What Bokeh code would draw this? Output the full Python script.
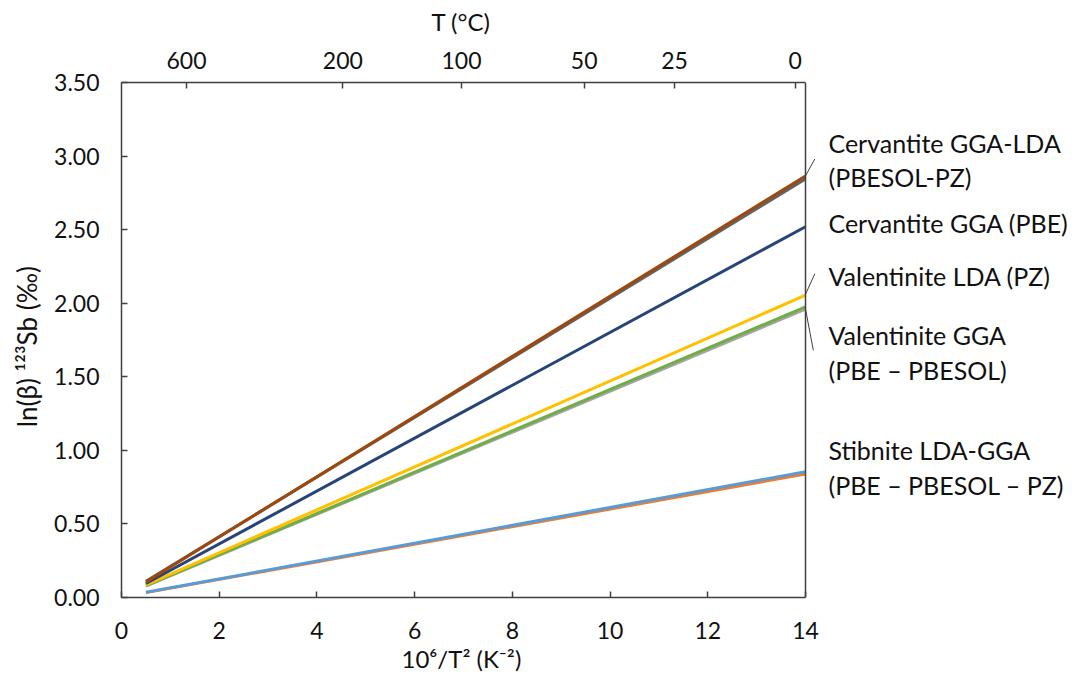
from bokeh.plotting import figure
from bokeh.models import LinearAxis, FixedTicker, Label, Range1d, NumeralTickFormatter, Span, Title
from bokeh.embed import file_html
from bokeh.resources import INLINE

# ---------------- data ----------------
x_vals = [0.5, 14.0]                       # 10^6/T^2 (K^-2)
cerv_pz = [0.11, 2.845]                    # Cervantite LDA (PZ) - gray
cerv_pbesol = [0.105, 2.865]               # Cervantite GGA (PBESOL) - brown
cerv_pbe = [0.095, 2.52]                   # Cervantite GGA (PBE)
val_pz = [0.085, 2.055]                    # Valentinite LDA (PZ)
val_pbe = [0.078, 1.96]                    # Valentinite GGA (PBE) - gray
val_pbesol = [0.08, 1.975]                 # Valentinite GGA (PBESOL) - green
stib_pz = [0.033, 0.84]                    # Stibnite (orange)
stib_pbe = [0.035, 0.855]                  # Stibnite (blue)

x_ticks = [0, 2, 4, 6, 8, 10, 12, 14]
y_ticks = [0.0, 0.5, 1.0, 1.5, 2.0, 2.5, 3.0, 3.5]
top_tick_pos = [1.33, 4.53, 6.96, 9.47, 11.32, 13.79]
top_tick_labels = ["600", "200", "100", "50", "25", "0"]

label_texts = ["Cervantite GGA-LDA", "(PBESOL-PZ)", "Cervantite GGA (PBE)",
               "Valentinite LDA (PZ)", "Valentinite GGA", "(PBE \u2013 PBESOL)",
               "Stibnite LDA-GGA", "(PBE \u2013 PBESOL \u2013 PZ)"]
label_y = [3.09, 2.86, 2.545, 2.186, 1.785, 1.548, 1.005, 0.767]

# leader lines (from series end to label)
lead_x0 = [14.0, 14.0, 14.0]
lead_y0 = [2.865, 2.06, 1.96]
lead_x1 = [14.19, 14.19, 14.16]
lead_y1 = [2.98, 2.20, 1.68]

FONT = "Lato"
AX = "#404040"
TXT = "#111111"
X_MAX = 14
X_VIEW = 19.649   # the frame continues to the right canvas edge (label area)

p = figure(width=1081, height=675, output_backend="svg", toolbar_location=None,
           x_range=Range1d(0, X_VIEW), y_range=Range1d(0, 3.5))
p.min_border_left = 121
p.min_border_right = 0
p.min_border_top = 82
p.min_border_bottom = 78
p.xgrid.visible = False
p.ygrid.visible = False
p.outline_line_color = None
p.background_fill_color = "white"
p.border_fill_color = "white"

p.add_layout(Span(location=X_MAX, dimension="height", line_color=AX, line_width=1.5))

p.line(x_vals, stib_pz, line_color="#ED7D31", line_width=3)
p.line(x_vals, stib_pbe, line_color="#5B9BD5", line_width=3)
p.line(x_vals, val_pbe, line_color="#A5A5A5", line_width=3)
p.line(x_vals, val_pbesol, line_color="#70AD47", line_width=3)
p.line(x_vals, val_pz, line_color="#FFC000", line_width=3)
p.line(x_vals, cerv_pbe, line_color="#264478", line_width=3)
p.line(x_vals, cerv_pz, line_color="#636363", line_width=3)
p.line(x_vals, cerv_pbesol, line_color="#9E480E", line_width=3)

p.segment(lead_x0, lead_y0, lead_x1, lead_y1, line_color="#404040", line_width=1)

xa = p.xaxis[0]
xa.ticker = FixedTicker(ticks=x_ticks)
xa.bounds = (0, X_MAX)
ya = p.yaxis[0]
ya.ticker = FixedTicker(ticks=y_ticks)
ya.formatter = NumeralTickFormatter(format="0.00")
ya.axis_label = "ln(\u03b2)   \u00b9\u00b2\u00b3Sb (\u2030)"

ta = LinearAxis(ticker=FixedTicker(ticks=top_tick_pos),
                major_label_overrides={pos: lab for pos, lab in zip(top_tick_pos, top_tick_labels)},
                bounds=(0, X_MAX))
p.add_layout(ta, "above")

for ax in (xa, ya, ta):
    ax.axis_line_color = AX
    ax.axis_line_width = 1.5
    ax.major_tick_line_color = AX
    ax.major_tick_line_width = 1.5
    ax.major_tick_in = 6
    ax.major_tick_out = 0
    ax.minor_tick_line_color = None
    ax.major_label_text_font = FONT
    ax.major_label_text_font_size = "23px"
    ax.major_label_text_color = TXT
    ax.axis_label_text_font = FONT
    ax.axis_label_text_font_size = "26px"
    ax.axis_label_text_font_style = "normal"
    ax.axis_label_text_color = TXT

xa.major_label_standoff = 24
ta.major_label_standoff = 14
ya.major_label_standoff = 22
ya.axis_label_standoff = 8

# axis titles for the two horizontal axes, placed over the 0..14 box
p.add_layout(Title(text=" ", text_font=FONT, text_font_size="9px", standoff=0), "above")
p.add_layout(Title(text="T (\u00b0C)", align="left", offset=310,
                   text_font=FONT, text_font_size="24px", text_font_style="normal",
                   text_color=TXT, standoff=0), "above")
p.add_layout(Title(text="10\u2076/T\u00b2 (K\u207b\u00b2)", align="left", offset=280,
                   text_font=FONT, text_font_size="24px", text_font_style="normal",
                   text_color=TXT, standoff=0), "below")

for t, yv in zip(label_texts, label_y):
    p.add_layout(Label(x=14.47, y=yv, text=t, text_font=FONT, text_font_size="25px",
                       text_baseline="middle", text_align="left", text_color=TXT))

open("out.html", "w").write(file_html(p, INLINE))
